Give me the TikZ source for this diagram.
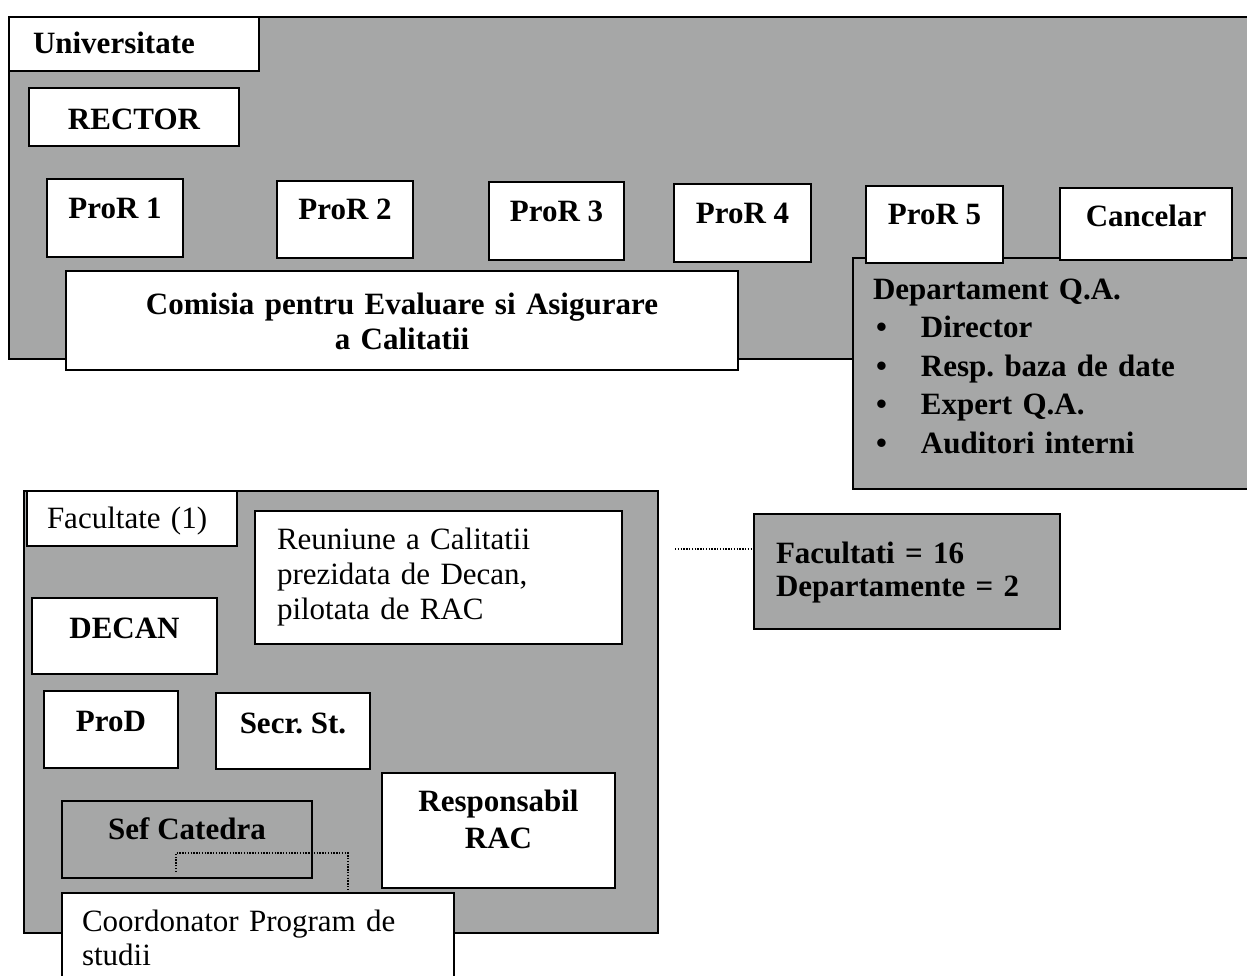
\documentclass[tikz,border=0pt]{standalone}
\usepackage{fontspec}
\setmainfont{Liberation Serif}
\usetikzlibrary{calc}
\definecolor{panel}{RGB}{166,167,167}
\frenchspacing
\begin{document}
\begin{tikzpicture}[x=1pt,y=-1pt,
  box/.style={draw=black, line width=2pt, fill=white, inner sep=0pt, anchor=north west,
    font=\fontsize{31}{35}\selectfont\bfseries},
  graybox/.style={box, fill=panel},
  reg/.style={font=\fontsize{31}{35}\selectfont\mdseries},
  dots/.style={line width=1.6pt, dash pattern=on 1.4pt off 1.4pt}]
\useasboundingbox (0,0) rectangle (1247,975);

% ---------------- Universitate ----------------
\node[graybox, minimum width=1240pt, minimum height=342pt] (uni) at (8,16) {};
\node[box, text width=202pt, inner xsep=24pt, align=left, text height=36pt, text depth=18pt] (unil) at (8,16) {Universitate};
\node[box, minimum width=210pt, text height=41pt, text depth=17pt] (rector) at (28,87) {RECTOR};
\node[box, minimum width=136pt, text height=39pt, text depth=39pt] (p1) at (46,178) {ProR 1};
\node[box, minimum width=136pt, text height=38pt, text depth=39pt] (p2) at (276,180) {ProR 2};
\node[box, minimum width=135pt, text height=39pt, text depth=39pt] (p3) at (488,181) {ProR 3};
\node[box, minimum width=137pt, text height=39pt, text depth=39pt] (p4) at (673,183) {ProR 4};
\node[box, text width=672pt, align=center, text height=43pt, text depth=56pt] (cea) at (65,270)
  {Comisia pentru Evaluare si Asigurare\\a Calitatii};
\node[graybox, text width=374pt, inner xsep=20pt, align=left, text height=41pt, text depth=190pt,
  font=\fontsize{31}{38.5}\selectfont\bfseries] (qa) at (852,257)
  {Departament Q.A.\\
   \makebox[48pt][l]{\hspace{3pt}\textbullet}Director\\
   \makebox[48pt][l]{\hspace{3pt}\textbullet}Resp. baza de date\\
   \makebox[48pt][l]{\hspace{3pt}\textbullet}Expert Q.A.\\
   \makebox[48pt][l]{\hspace{3pt}\textbullet}Auditori interni};
\node[box, minimum width=137pt, text height=38pt, text depth=39pt] (p5) at (865,185) {ProR 5};
\node[box, minimum width=172pt, text height=38pt, text depth=34pt] (canc) at (1059,187) {Cancelar};

% ---------------- Facultate ----------------
\node[graybox, minimum width=634pt, minimum height=442pt] (fac) at (23,490) {};
\node[box, reg, text width=170pt, inner xsep=20pt, align=left, text height=37pt, text depth=18pt] (facl) at (26,490) {Facultate (1)};
\node[box, reg, text width=323pt, inner xsep=22pt, align=left, text height=38pt, text depth=95pt] (reun) at (254,510)
  {Reuniune a Calitatii\\prezidata de Decan,\\pilotata de RAC};
\node[box, minimum width=185pt, text height=40pt, text depth=36pt] (decan) at (31,597) {DECAN};
\node[box, minimum width=134pt, text height=40pt, text depth=37pt] (prod) at (43,690) {ProD};
\node[box, minimum width=154pt, text height=40pt, text depth=36pt] (secr) at (215,692) {Secr. St.};
\node[box, text width=233pt, align=center, text height=38pt, text depth=77pt,
  font=\fontsize{31}{37}\selectfont\bfseries] (rac) at (381,772) {Responsabil\\RAC};
\node[graybox, minimum width=250pt, text height=38pt, text depth=39pt] (sef) at (61,800) {Sef Catedra};
\node[box, reg, text width=352pt, inner xsep=20pt, align=left, text height=38pt, text depth=60pt,
  font=\fontsize{31}{34}\selectfont\mdseries] (coord) at (61,892) {Coordonator Program de\\studii};
\coordinate (d1) at (176,872);
\coordinate (d2) at (348,853);
\draw[dots] (d1) |- (d2) -- (d2 |- coord.north);

% ---------------- Facultati ----------------
\node[graybox, text width=262pt, inner xsep=22pt, align=left, text height=49pt, text depth=66pt,
  font=\fontsize{31}{33}\selectfont\bfseries] (fst) at (753,513) {Facultati = 16\\Departamente = 2};
\coordinate (d3) at (675,549);
\draw[dots] (d3) -- (d3 -| fst.west);
\end{tikzpicture}
\end{document}
